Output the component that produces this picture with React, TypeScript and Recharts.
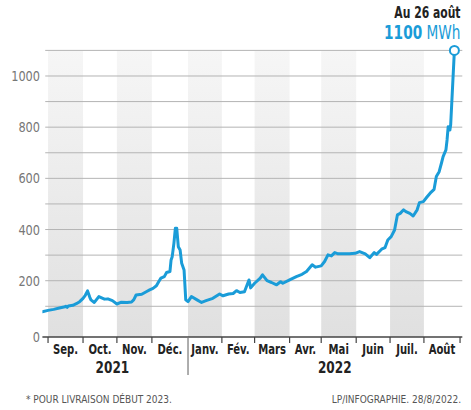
import React from "react";
import {
  LineChart,
  Line,
  XAxis,
  YAxis,
  ReferenceArea,
  ReferenceLine,
  ReferenceDot,
} from "recharts";

// ---- data ----
const days = [
  -5, 0, 5, 10, 14, 16, 17, 18, 22, 25, 28, 31, 33, 35, 37, 38, 41, 45, 48, 50,
  53, 57, 61, 65, 70, 74, 76, 78, 83, 87, 90, 93, 96, 98, 100, 103, 105, 108,
  109, 110, 111.5, 112.8, 114, 115.4, 117, 118.4, 120.5, 122, 124, 127, 132,
  136, 140, 146, 152, 155, 160, 164, 167, 170, 174, 178, 179.5, 183, 188, 190,
  194, 198, 202.5, 206, 208, 214, 220, 225, 229, 234, 237, 242, 245, 248, 251,
  254, 257, 267, 272, 276, 281, 285, 289, 291, 295.5, 298.5, 301, 304, 307,
  309.5, 312, 315, 317, 320.5, 323.5, 327, 329, 332.5, 335.5, 338.5, 342, 344,
  346.5, 348.5, 350, 352.5, 353.5, 354.5, 356, 356.7, 360,
];
const values = [
  79, 84, 88, 93, 97, 100, 96, 101, 104, 110, 118, 131, 143, 160, 135, 125,
  115, 138, 132, 128, 129, 122, 109, 116, 115, 117, 126, 144, 147, 157, 164,
  170, 180, 196, 210, 216, 232, 236, 281, 294, 346, 405, 405, 333, 320, 268,
  242, 125, 118, 138, 125, 115, 122, 131, 148, 141, 148, 150, 161, 154, 157,
  203, 172, 190, 210, 223, 200, 193, 184, 196, 190, 203, 216, 225, 236, 262,
  253, 258, 275, 301, 297, 310, 305, 305, 307, 314, 305, 290, 310, 303, 323,
  329, 359, 372, 398, 457, 463, 477, 470, 463, 453, 477, 505, 509, 526, 542,
  557, 607, 626, 659, 685, 711, 750, 802, 789, 809, 1100,
];

const monthLabels = [
  "Sep.", "Oct.", "Nov.", "Déc.", "Janv.", "Fév.", "Mars", "Avr.", "Mai",
  "Juin", "Juil.", "Août",
];
const monthBounds = [0, 31, 61, 92, 124, 154, 183, 214, 242, 273, 303, 333, 365];
const yearLabels = ["2021", "2022"];
const yearCenters = [57, 254];
const yearSplit = 124;

const yTicks = [0, 200, 400, 600, 800, 1000];
const gridValues = [100, 200, 300, 400, 500, 600, 700, 800, 900, 1000, 1100];

const lastDay = 360;
const lastValue = 1100;

const data = days.map((d, i) => ({ day: d, value: values[i] }));

const monthCenters = monthLabels.map(
  (_, i) => (monthBounds[i] + monthBounds[i + 1]) / 2
);
const allTicks = [...monthBounds, ...monthCenters, ...yearCenters].sort(
  (a, b) => a - b
);

const BLUE = "#1a9cd8";
const FONT = "'DejaVu Sans Condensed', 'DejaVu Sans', sans-serif";
const AXIS_Y = 337;

const XTick = (props: any) => {
  const { x, payload } = props;
  const v = payload.value;
  const bi = monthBounds.indexOf(v);
  if (bi >= 0) {
    const long = v === yearSplit;
    return (
      <line
        x1={x}
        x2={x}
        y1={AXIS_Y}
        y2={long ? 375 : AXIS_Y + 6}
        stroke={long ? "#777" : "#444"}
        strokeWidth={1.2}
      />
    );
  }
  const mi = monthCenters.indexOf(v);
  if (mi >= 0) {
    return (
      <g transform={`translate(${x},354) scale(0.8,1)`}>
        <text
          x={0}
          y={0}
          textAnchor="middle"
          fontFamily={FONT}
          fontSize={14}
          fontWeight={700}
          fill="#222"
        >
          {monthLabels[mi]}
        </text>
      </g>
    );
  }
  const yi = yearCenters.indexOf(v);
  if (yi >= 0) {
    return (
      <g transform={`translate(${x},373) scale(0.84,1)`}>
        <text
          x={0}
          y={0}
          textAnchor="middle"
          fontFamily={FONT}
          fontSize={16}
          fontWeight={700}
          fill="#222"
        >
          {yearLabels[yi]}
        </text>
      </g>
    );
  }
  return null;
};

const YTick = (props: any) => {
  const { y, payload } = props;
  const v = payload.value;
  return (
    <g transform={`translate(40,${(v === 0 ? y + 5 : y) + 5}) scale(0.9,1)`}>
      <text
        x={0}
        y={0}
        textAnchor="end"
        fontFamily={FONT}
        fontSize={14}
        fill="#777"
      >
        {v}
      </text>
    </g>
  );
};

export default function App() {
  return (
    <div
      style={{
        position: "absolute",
        left: 0,
        top: 0,
        width: 471,
        height: 410,
        background: "#fff",
      }}
    >
      <LineChart
        width={471}
        height={410}
        data={data}
        margin={{ top: 50.4, right: 8.7, left: 0, bottom: 0 }}
      >
        <defs>
          <linearGradient id="bandGrad" x1="0" y1="0" x2="0" y2="1">
            <stop offset="0%" stopColor="#f6f6f6" />
            <stop offset="100%" stopColor="#e0e0e0" />
          </linearGradient>
        </defs>
        {monthLabels.map((m, i) =>
          i % 2 === 0 ? (
            <ReferenceArea
              key={m}
              x1={monthBounds[i]}
              x2={monthBounds[i + 1]}
              y1={-20}
              y2={1100}
              fill="url(#bandGrad)"
              fillOpacity={1}
              stroke="none"
              ifOverflow="visible"
            />
          ) : null
        )}
        {gridValues.map((g) => (
          <ReferenceLine
            key={g}
            segment={[
              { x: -2.5, y: g },
              { x: 367, y: g },
            ]}
            stroke="#b4b4b4"
            strokeWidth={1}
            ifOverflow="visible"
          />
        ))}
        <XAxis
          dataKey="day"
          type="number"
          domain={[-5, 367]}
          ticks={allTicks}
          interval={0}
          height={73}
          tickLine={false}
          axisLine={{ stroke: "#444", strokeWidth: 1.5 }}
          tick={<XTick />}
          allowDataOverflow
        />
        <YAxis
          type="number"
          domain={[-20, 1100]}
          ticks={yTicks}
          width={42.4}
          tickLine={false}
          axisLine={false}
          tick={<YTick />}
          interval={0}
          allowDataOverflow
        />
        <Line
          type="linear"
          dataKey="value"
          stroke={BLUE}
          strokeWidth={3}
          strokeLinejoin="round"
          strokeLinecap="round"
          dot={false}
          isAnimationActive={false}
        />
        <ReferenceDot
          x={lastDay}
          y={lastValue}
          r={4.5}
          fill="#fff"
          stroke={BLUE}
          strokeWidth={2}
          ifOverflow="visible"
        />
      </LineChart>
      <div
        style={{
          position: "absolute",
          right: 11,
          top: 4,
          textAlign: "right",
          fontFamily: FONT,
          lineHeight: "19px",
          transform: "scaleX(0.8)",
          transformOrigin: "right center",
        }}
      >
        <div style={{ fontSize: 15, fontWeight: 700, color: "#222" }}>
          Au 26 août
        </div>
        <div style={{ fontSize: 19, color: BLUE }}>
          <span style={{ fontWeight: 700 }}>1100</span> MWh
        </div>
      </div>
      <div
        style={{
          position: "absolute",
          left: 26,
          top: 394,
          fontFamily: FONT,
          fontSize: 10,
          color: "#555",
          whiteSpace: "nowrap",
        }}
      >
        * POUR LIVRAISON DÉBUT 2023.
      </div>
      <div
        style={{
          position: "absolute",
          right: 10,
          top: 394,
          fontFamily: FONT,
          fontSize: 10,
          color: "#555",
          whiteSpace: "nowrap",
        }}
      >
        LP/INFOGRAPHIE. 28/8/2022.
      </div>
    </div>
  );
}
